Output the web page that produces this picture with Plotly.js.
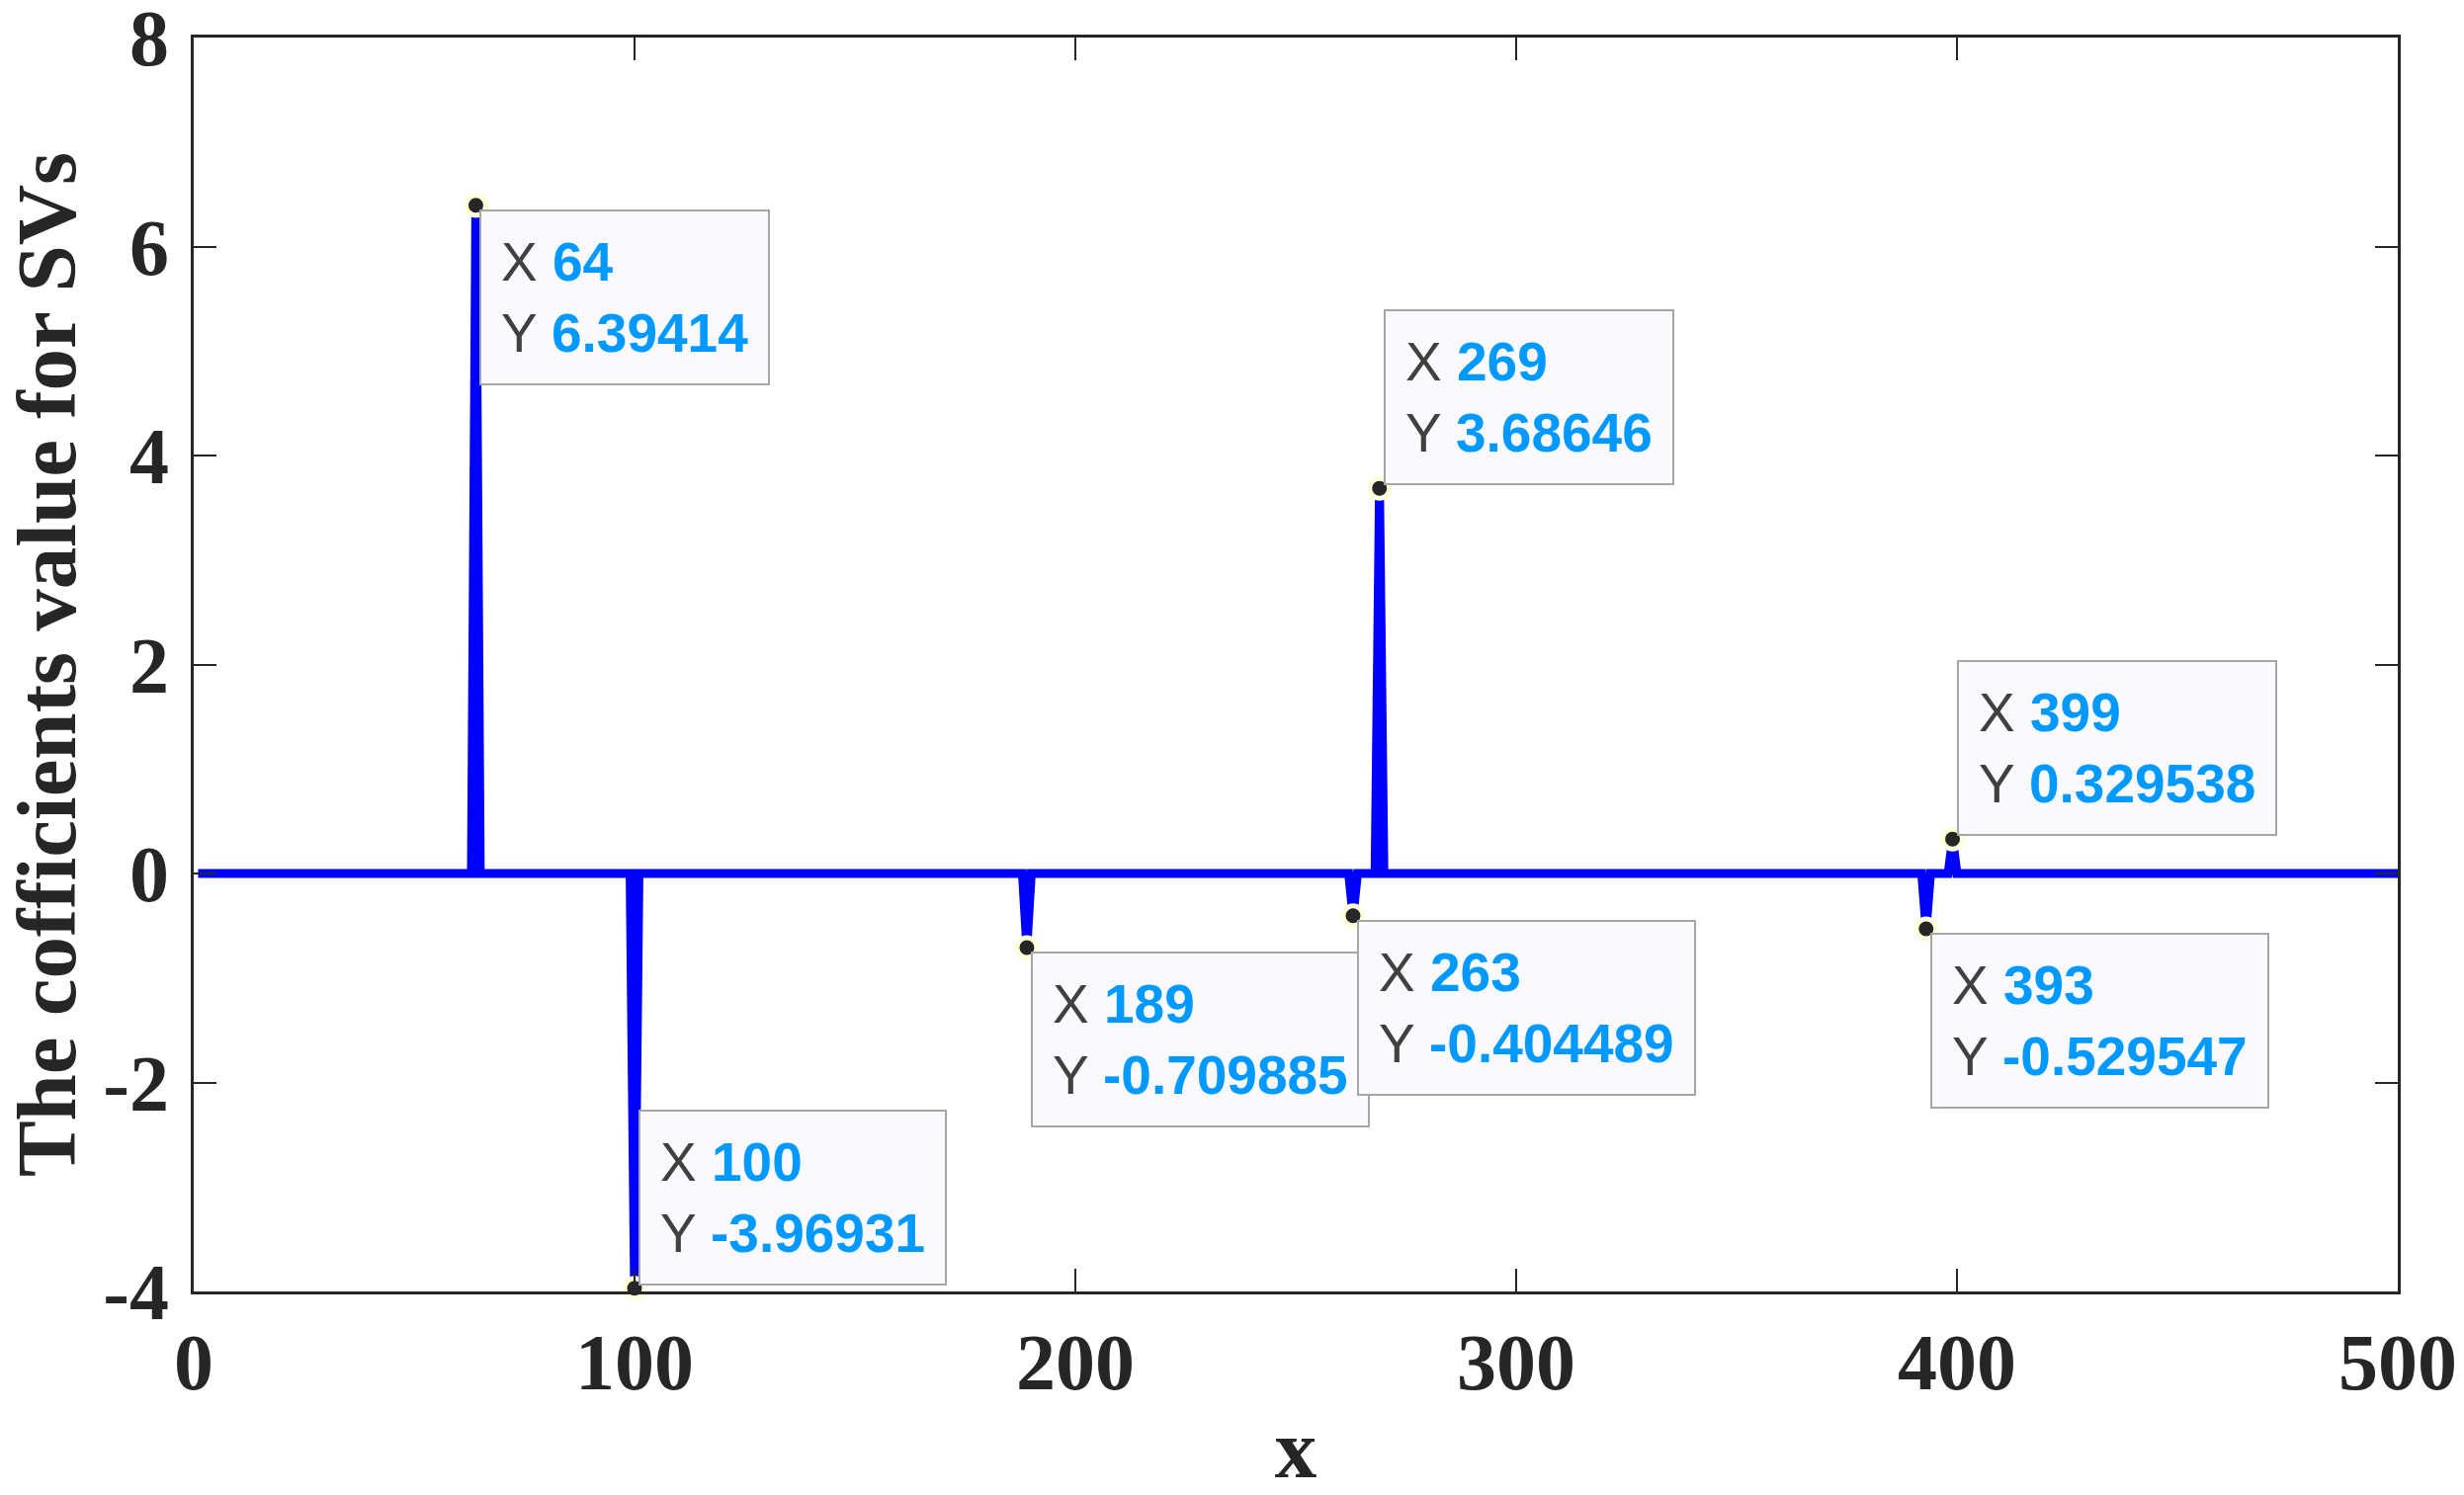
<!DOCTYPE html>
<html>
<head>
<meta charset="utf-8">
<script src="https://cdn.plot.ly/plotly-3.0.1.min.js"></script>
<style>html,body{margin:0;padding:0;background:#fff;}#chart{width:2493px;height:1513px;}</style>
</head>
<body>
<div id="chart"></div>
<script>
// Line breakpoints (zero everywhere except the spikes)
const lineX = [1, 63, 64, 65, 99, 100, 101, 188, 189, 190, 262, 263, 264, 268, 269, 270, 392, 393, 394, 398, 399, 400, 500];
const lineY = [0, 0, 6.39414, 0, 0, -3.96931, 0, 0, -0.709885, 0, 0, -0.404489, 0, 0, 3.68646, 0, 0, -0.529547, 0, 0, 0.329538, 0, 0];

// Data tips
const tipX = [64, 100, 189, 263, 269, 393, 399];
const tipY = [6.39414, -3.96931, -0.709885, -0.404489, 3.68646, -0.529547, 0.329538];
const tipYText = ['6.39414', '-3.96931', '-0.709885', '-0.404489', '3.68646', '-0.529547', '0.329538'];

// Axis ticks
const xTicks = [0, 100, 200, 300, 400, 500];
const yTicks = [-4, -2, 0, 2, 4, 6, 8];

// ---- styling ----
const tipAnchor = ['top', 'bottom', 'top', 'top', 'bottom', 'top', 'bottom'];
const valColor = '#0099ff';
const axisColor = '#262626';
const serif = 'Liberation Serif, Times New Roman, serif';

const traces = [
  {
    x: lineX, y: lineY, type: 'scatter', mode: 'lines',
    line: {color: '#0000ff', width: 9},
    hoverinfo: 'skip', showlegend: false
  },
  {
    x: tipX, y: tipY, type: 'scatter', mode: 'markers',
    marker: {color: '#262626', size: 20, line: {color: '#ffffdc', width: 5}},
    cliponaxis: false, hoverinfo: 'skip', showlegend: false
  }
];

const annotations = tipX.map((x, i) => ({
  x: x, y: tipY[i], xref: 'x', yref: 'y',
  showarrow: false,
  xanchor: 'left', yanchor: tipAnchor[i],
  xshift: 4, yshift: tipAnchor[i] === 'top' ? -4 : 3,
  align: 'left',
  text: 'X <span style="color:' + valColor + '"><b>' + x + '</b></span><br>Y <span style="color:' + valColor + '"><b>' + tipYText[i] + '</b></span>',
  font: {family: 'Liberation Sans, Arial, sans-serif', size: 55, color: '#404040'},
  bgcolor: '#f9f9fe', bordercolor: '#a6a6a6', borderwidth: 2, borderpad: 20
}));

const layout = {
  width: 2493, height: 1513,
  margin: {l: 196, r: 67, t: 38, b: 206, pad: 0},
  paper_bgcolor: '#ffffff', plot_bgcolor: '#ffffff',
  showlegend: false,
  xaxis: {
    range: [0, 500], tickvals: xTicks, ticktext: xTicks.map(String),
    showgrid: false, zeroline: false,
    showline: true, linecolor: axisColor, linewidth: 3, mirror: 'ticks',
    ticks: 'inside', ticklen: 23, tickwidth: 2, tickcolor: axisColor,
    ticklabelstandoff: 0, ticklabeloverflow: 'allow',
    tickfont: {family: serif, size: 80, color: axisColor, weight: 'bold'},
    title: {text: 'x', font: {family: serif, size: 85, color: axisColor, weight: 'bold'}, standoff: 28},
    automargin: false
  },
  yaxis: {
    range: [-4, 8], tickvals: yTicks, ticktext: yTicks.map(String),
    showgrid: false, zeroline: false,
    showline: true, linecolor: axisColor, linewidth: 3, mirror: 'ticks',
    ticks: 'inside', ticklen: 23, tickwidth: 2, tickcolor: axisColor,
    ticklabelstandoff: 6, ticklabeloverflow: 'allow',
    tickfont: {family: serif, size: 80, color: axisColor, weight: 'bold'},
    title: {text: 'The cofficients value for SVs', font: {family: serif, size: 85, color: axisColor, weight: 'bold'}, standoff: 32},
    automargin: false
  },
  annotations: annotations
};

Plotly.newPlot('chart', traces, layout, {displayModeBar: false, staticPlot: true});
</script>
</body>
</html>
